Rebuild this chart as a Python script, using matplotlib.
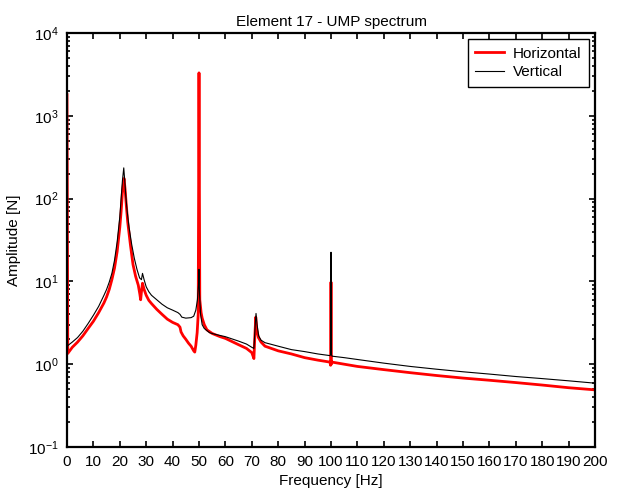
import numpy as np
import matplotlib
matplotlib.use("Agg")
import matplotlib.pyplot as plt
from matplotlib.ticker import LogLocator, FixedLocator, FuncFormatter, NullFormatter

# Vertical (black, thin) UMP spectrum
vert_f = [0, 2, 4, 6, 8, 10, 12, 14, 15, 16, 17, 18, 19, 20, 20.5, 21, 21.5,
          21.9, 22.3, 22.8, 23.5, 24.5, 25.5, 26.5, 27.5, 28.2, 28.6, 29.2,
          30, 31, 32, 34, 36, 38, 40, 42, 42.8, 43.5, 45, 47, 48, 48.8,
          49.4, 49.8, 50, 50.2, 50.6, 51.2, 52, 54, 56, 60, 65, 68, 70, 70.8,
          71.3, 71.6, 72, 72.6, 73.5, 75, 80, 85, 90, 95, 99.6, 99.85, 100,
          100.15, 100.4, 105, 110, 120, 130, 140, 150, 160, 170, 180, 190, 200]
vert_a = [1.65, 1.85, 2.1, 2.5, 3.1, 3.9, 5.0, 6.8, 8.0, 9.8, 12.5, 18, 30, 60,
          100, 165, 235, 160, 105, 70, 45, 28, 19, 14, 11, 10.5, 12.5, 10.5,
          8.6, 7.5, 6.8, 6.0, 5.3, 4.8, 4.5, 4.2, 4.0, 3.7, 3.6, 3.65, 3.8, 4.5,
          6, 9, 14, 7, 4, 3.0, 2.7, 2.4, 2.3, 2.15, 1.9, 1.75, 1.6, 1.55,
          3.0, 4.1, 3.0, 2.2, 1.95, 1.82, 1.65, 1.5, 1.42, 1.33, 1.27, 1.3, 22.5,
          1.3, 1.25, 1.2, 1.14, 1.03, 0.94, 0.87, 0.81, 0.76, 0.71, 0.67, 0.63, 0.59]

# Horizontal (red, thick) UMP spectrum
hor_f = [0, 0.3, 2, 4, 6, 8, 10, 12, 14, 15, 16, 17, 18, 19, 20, 20.5, 21,
         21.6, 22, 22.5, 23, 24, 25, 26, 27, 27.6, 27.9, 28.2, 28.6, 29.2, 30,
         31, 32, 34, 36, 38, 40, 42, 42.8, 43.2, 44, 45, 46, 47, 48, 48.4,
         48.8, 49.3, 49.7, 50, 50.3, 50.8, 51.2, 52, 53, 55, 58, 60, 65, 68,
         70, 70.8, 71.1, 71.5, 71.9, 72.5, 73.5, 75, 80, 85, 90, 95, 99.6,
         99.85, 100, 100.15, 100.4, 105, 110, 120, 130, 140, 150, 160, 170,
         180, 190, 200]
hor_a = [1800, 1.35, 1.6, 1.85, 2.2, 2.7, 3.3, 4.2, 5.5, 6.5, 8.0, 10.5, 14.5,
         23, 45, 70, 120, 175, 130, 80, 52, 28, 16, 11.5, 9, 7, 6.0, 7.5, 9.5,
         8, 6.8, 5.9, 5.4, 4.6, 4.0, 3.5, 3.2, 3.0, 2.8, 2.45, 2.2, 2.0, 1.8,
         1.65, 1.45, 1.4, 1.7, 2.4, 4, 3300, 6, 4.2, 3.6, 3.0, 2.6, 2.35, 2.15,
         2.05, 1.72, 1.55, 1.38, 1.17, 2.0, 3.7, 2.6, 2.1, 1.85, 1.65, 1.45,
         1.33, 1.2, 1.12, 1.06, 0.97, 9.8, 1.0, 1.06, 1.0, 0.94, 0.86, 0.79,
         0.73, 0.68, 0.64, 0.6, 0.56, 0.52, 0.49]

xticks = list(range(0, 201, 10))

plt.rcParams["font.family"] = ["Liberation Sans", "DejaVu Sans"]
plt.rcParams["font.size"] = 11
plt.rcParams["mathtext.default"] = "regular"

fig = plt.figure(figsize=(6.19, 4.95), dpi=100)
ax = fig.add_axes([67 / 619, 48 / 495, 528 / 619, 414 / 495])

ax.plot(hor_f, hor_a, color="red", lw=2.0, label="Horizontal")
ax.plot(vert_f, vert_a, color="black", lw=0.8, label="Vertical")

ax.set_yscale("log")
ax.set_xlim(0, 200)
ax.set_ylim(0.1, 1e4)
ax.xaxis.set_major_locator(FixedLocator(xticks))
ax.yaxis.set_major_locator(LogLocator(base=10, numticks=10))
ax.yaxis.set_minor_locator(LogLocator(base=10, subs=np.arange(2, 10), numticks=20))
ax.yaxis.set_minor_formatter(NullFormatter())
ax.yaxis.set_major_formatter(FuncFormatter(lambda v, p: r"$10^{%d}$" % round(np.log10(v))))

ax.tick_params(which="both", direction="in", top=True, right=True, width=1.2)
ax.tick_params(which="major", length=4.5, labelsize=11, pad=6)
ax.tick_params(which="minor", length=2.5)
for s in ax.spines.values():
    s.set_linewidth(1.6)

ax.set_xlabel("Frequency [Hz]", fontsize=11, labelpad=3)
ax.set_ylabel("Amplitude [N]", fontsize=11, labelpad=5)
ax.set_title("Element 17 - UMP spectrum", fontsize=11, pad=5)

leg = ax.legend(loc="upper right", fancybox=False, edgecolor="black",
                framealpha=1, borderaxespad=0.4, handlelength=1.9,
                handletextpad=0.55, fontsize=11, borderpad=0.5,
                labelspacing=0.3)
leg.get_frame().set_linewidth(1.0)

fig.savefig("out.png", dpi=100)
